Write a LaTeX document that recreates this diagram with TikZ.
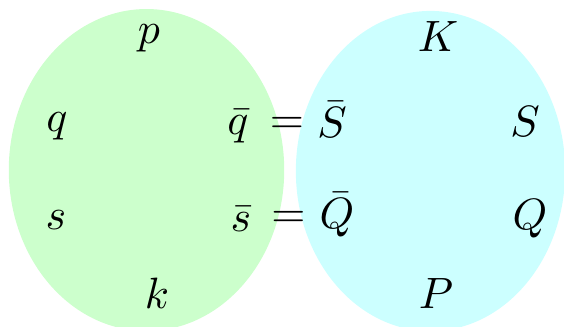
\documentclass[tikz,border=0pt]{standalone}
\usepackage{amsmath}
\usepackage{amssymb}
\usepackage{tikz}
\definecolor{vertclair}{RGB}{204,255,204}
\definecolor{cyanclair}{RGB}{204,255,255}

\begin{document}
\begin{tikzpicture}[
    x=0.228pt, y=-0.228pt,
    lettre/.style={inner sep=0pt},
    egal/.style={inner sep=0pt},
  ]
  \useasboundingbox (0,0) rectangle (564,326);
  % les deux ensembles
  \fill[vertclair] (146.5,170) ellipse [x radius=31.4pt, y radius=36.7pt];
  \fill[cyanclair] (430.5,171) ellipse [x radius=30.7pt, y radius=36.5pt];
  % a gauche
  \node[lettre] (p) at (149,38) {$p$};
  \node[lettre] (q) at (57,126) {$q$};
  \node[lettre] (qb) at (238,126) {$\bar{q}$};
  \node[lettre] (s) at (56,220) {$s$};
  \node[lettre] (sb) at (241,219) {$\bar{s}$};
  \node[lettre] (k) at (157,293) {$k$};
  % a droite
  \node[lettre] (K) at (438,37) {$K$};
  \node[lettre] (Sb) at (332,120) {$\bar{S}$};
  \node[lettre] (S) at (525,122) {$S$};
  \node[lettre] (Qb) at (337,215) {$\bar{Q}$};
  \node[lettre] (Q) at (530,219) {$Q$};
  \node[lettre] (P) at (436,294) {$P$};
  % les egalites
  \node[egal] (e1) at (287,125) {$=$};
  \node[egal] (e2) at (288.5,219) {$=$};
\end{tikzpicture}
\end{document}
